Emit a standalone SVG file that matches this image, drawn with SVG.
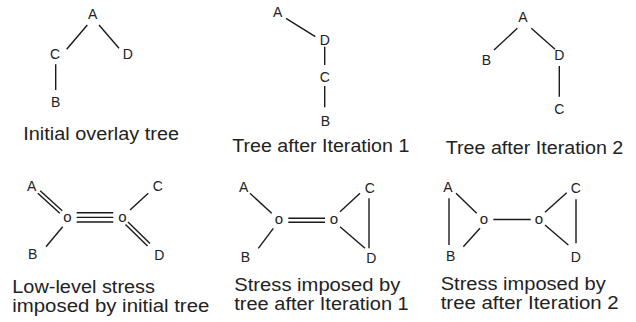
<svg xmlns="http://www.w3.org/2000/svg" width="636" height="322" viewBox="0 0 636 322">
<style>
.n{font-family:"Liberation Sans",Arial,sans-serif;font-size:14px;fill:#222;text-anchor:middle}
.h{font-family:"Liberation Sans",Arial,sans-serif;font-size:15px;fill:#222;text-anchor:middle}
.cap{font-family:"Liberation Sans",Arial,sans-serif;font-size:17.5px;fill:#222}
.e line{stroke:#1a1a1a;stroke-width:1.4;fill:none}
</style>
<rect width="636" height="322" fill="#fff"/>
<g id="connectors" class="e">
<!-- panel 1 -->
<line x1="87.3" y1="25" x2="66.7" y2="49.3"/>
<line x1="99" y1="25" x2="119" y2="48.3"/>
<line x1="55.7" y1="64.3" x2="55.7" y2="90"/>
<!-- panel 2 -->
<line x1="286" y1="18.3" x2="315.3" y2="36.7"/>
<line x1="324.7" y1="46.7" x2="324.7" y2="65"/>
<line x1="324.7" y1="86" x2="324.7" y2="107.3"/>
<!-- panel 3 -->
<line x1="517.3" y1="28.3" x2="494" y2="50"/>
<line x1="531.3" y1="28.3" x2="555" y2="49.3"/>
<line x1="559.3" y1="66" x2="559.3" y2="96.7"/>
<!-- panel 4 -->
<line x1="40.2" y1="190.7" x2="62.2" y2="210.7"/>
<line x1="37.8" y1="193.3" x2="59.8" y2="213.3"/>
<line x1="46" y1="246.7" x2="62.7" y2="226.7"/>
<line x1="76.7" y1="212.8" x2="113.3" y2="212.8"/>
<line x1="76.7" y1="217.4" x2="113.3" y2="217.4"/>
<line x1="76.7" y1="222" x2="113.3" y2="222"/>
<line x1="148.3" y1="193.3" x2="130" y2="210"/>
<line x1="128" y1="222" x2="150" y2="243.5"/>
<line x1="125.5" y1="224.6" x2="147.5" y2="246.1"/>
<!-- panel 5 -->
<line x1="250" y1="193.3" x2="271.7" y2="213.3"/>
<line x1="258.3" y1="248.3" x2="273.3" y2="228.3"/>
<line x1="288.3" y1="218.2" x2="325" y2="218.2"/>
<line x1="288.3" y1="222.2" x2="325" y2="222.2"/>
<line x1="340" y1="211.7" x2="360" y2="193.3"/>
<line x1="340" y1="226.7" x2="365" y2="248.3"/>
<line x1="369" y1="198.3" x2="369" y2="248.3"/>
<!-- panel 6 -->
<line x1="449" y1="198.3" x2="449" y2="245"/>
<line x1="456" y1="193.3" x2="476.7" y2="213.3"/>
<line x1="463.3" y1="246.7" x2="480" y2="228.3"/>
<line x1="493.3" y1="219.5" x2="530.7" y2="219.5"/>
<line x1="545" y1="212.3" x2="566.7" y2="192.7"/>
<line x1="545" y1="225" x2="568.3" y2="245"/>
<line x1="576" y1="199.3" x2="576" y2="243.3"/>
</g>
<!-- panel 1 nodes -->
<g id="p1-A"><text class="n" x="92.7" y="19.3">A</text></g>
<g id="p1-C"><text class="n" x="55" y="59">C</text></g>
<g id="p1-D"><text class="n" x="127.7" y="59">D</text></g>
<g id="p1-B"><text class="n" x="55.7" y="107">B</text></g>
<g id="p1-caption"><text class="cap" x="23.3" y="140" textLength="155.7" lengthAdjust="spacingAndGlyphs">Initial overlay tree</text></g>
<!-- panel 2 nodes -->
<g id="p2-A"><text class="n" x="277.7" y="16.7">A</text></g>
<g id="p2-D"><text class="n" x="324.7" y="45">D</text></g>
<g id="p2-C"><text class="n" x="324.7" y="81.7">C</text></g>
<g id="p2-B"><text class="n" x="325.3" y="126">B</text></g>
<g id="p2-caption"><text class="cap" x="232.3" y="151.5" textLength="177" lengthAdjust="spacingAndGlyphs">Tree after Iteration 1</text></g>
<!-- panel 3 nodes -->
<g id="p3-A"><text class="n" x="523" y="21.7">A</text></g>
<g id="p3-B"><text class="n" x="486.3" y="65">B</text></g>
<g id="p3-D"><text class="n" x="559.3" y="60">D</text></g>
<g id="p3-C"><text class="n" x="559.3" y="114">C</text></g>
<g id="p3-caption"><text class="cap" x="445.7" y="154" textLength="177.6" lengthAdjust="spacingAndGlyphs">Tree after Iteration 2</text></g>
<!-- panel 4 nodes -->
<g id="p4-A"><text class="n" x="31.7" y="190.7">A</text></g>
<g id="p4-C"><text class="n" x="157.7" y="190.7">C</text></g>
<g id="p4-B"><text class="n" x="32.7" y="259">B</text></g>
<g id="p4-D"><text class="n" x="159.3" y="260">D</text></g>
<g id="p4-h1"><text class="h" x="67.5" y="221.8">o</text></g>
<g id="p4-h2"><text class="h" x="122.5" y="221.8">o</text></g>
<g id="p4-caption">
<text class="cap" x="12.3" y="292.5" textLength="142.7" lengthAdjust="spacingAndGlyphs">Low-level stress</text>
<text class="cap" x="12.3" y="312" textLength="197" lengthAdjust="spacingAndGlyphs">imposed by initial tree</text>
</g>
<!-- panel 5 nodes -->
<g id="p5-A"><text class="n" x="243.7" y="191.7">A</text></g>
<g id="p5-C"><text class="n" x="369.7" y="193.3">C</text></g>
<g id="p5-B"><text class="n" x="245.3" y="261.7">B</text></g>
<g id="p5-D"><text class="n" x="371.3" y="262.7">D</text></g>
<g id="p5-h1"><text class="h" x="279" y="224">o</text></g>
<g id="p5-h2"><text class="h" x="334" y="224">o</text></g>
<g id="p5-caption">
<text class="cap" x="234.3" y="291" textLength="166" lengthAdjust="spacingAndGlyphs">Stress imposed by</text>
<text class="cap" x="234.3" y="310" textLength="174.4" lengthAdjust="spacingAndGlyphs">tree after Iteration 1</text>
</g>
<!-- panel 6 nodes -->
<g id="p6-A"><text class="n" x="448" y="191.7">A</text></g>
<g id="p6-C"><text class="n" x="575.7" y="193.3">C</text></g>
<g id="p6-B"><text class="n" x="450.7" y="261">B</text></g>
<g id="p6-D"><text class="n" x="575.7" y="262">D</text></g>
<g id="p6-h1"><text class="h" x="484" y="223.8">o</text></g>
<g id="p6-h2"><text class="h" x="539" y="223.8">o</text></g>
<g id="p6-caption">
<text class="cap" x="440.7" y="290" textLength="165" lengthAdjust="spacingAndGlyphs">Stress imposed by</text>
<text class="cap" x="440.7" y="309" textLength="178" lengthAdjust="spacingAndGlyphs">tree after Iteration 2</text>
</g>
</svg>
